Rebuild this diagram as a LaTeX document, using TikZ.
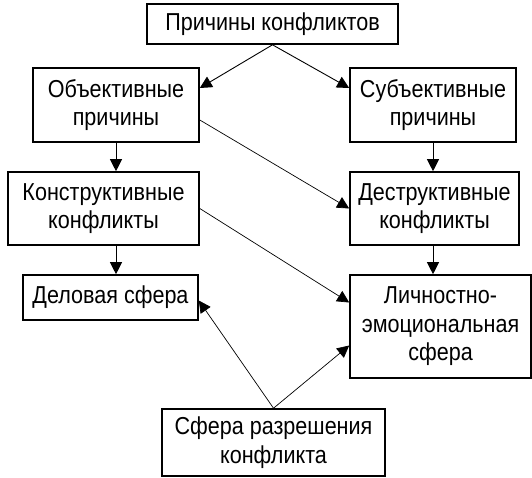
\documentclass[tikz,border=0pt]{standalone}
\usepackage{fontspec}
\setmainfont{Liberation Sans}[FakeStretch=0.88]
\usetikzlibrary{calc, positioning, arrows.meta}

\begin{document}
\begin{tikzpicture}[x=1pt, y=-1pt,
		box/.style={draw, line width=1.6pt, align=center, inner sep=0pt,
				font=\fontsize{24.5}{28.5}\selectfont},
		arr/.style={-{Triangle[length=12pt, width=12pt]}, line width=0.9pt}]
	\useasboundingbox (0,0) rectangle (532,477);

	\node[box, minimum width=251pt, minimum height=40pt] (causes) at (272.5,24) {Причины конфликтов};
	\node[box, minimum width=166pt, minimum height=74pt] (obj) at (116,105) {Объективные\\причины};
	\node[box, minimum width=166pt, minimum height=74pt] (subj) at (433,105) {Субъективные\\причины};
	\node[box, minimum width=191pt, minimum height=73pt] (constr) at (103.5,208.5) {Конструктивные\\конфликты};
	\node[box, minimum width=169pt, minimum height=73pt] (destr) at (434.5,208.5) {Деструктивные\\конфликты};
	\node[box, minimum width=175pt, minimum height=45pt] (business) at (110.5,297.5) {Деловая сфера};
	\node[box, minimum width=181pt, minimum height=103pt] (personal) at (440.5,326.5) {Личностно-\\эмоциональная\\сфера};
	\node[box, minimum width=223pt, minimum height=67pt] (resolve) at (273.5,442.5) {Сфера разрешения\\конфликта};

	% from the top box
	\draw[arr] (causes.south) -- ([yshift=17pt]obj.east);
	\draw[arr] (causes.south) -- ([yshift=17pt]subj.west);

	% down the columns
	\draw[arr] (obj.south) -- (obj.south |- constr.north);
	\draw[arr] (obj.south |- constr.south) -- (obj.south |- business.north);
	\draw[arr] (subj.south) -- (subj.south |- destr.north);
	\draw[arr] (subj.south |- destr.south) -- (subj.south |- personal.north);

	% across
	\draw[arr, line width=0.7pt] ([yshift=-15pt]obj.east) -- (destr.west);
	\draw[arr, line width=0.7pt] (constr.east) -- ([yshift=24pt]personal.west);
	\draw[arr, line width=0.7pt] (resolve.north) -- ([yshift=-3pt]business.east);
	\draw[arr, line width=0.7pt] (resolve.north) -- ([yshift=-19pt]personal.west);
\end{tikzpicture}
\end{document}
